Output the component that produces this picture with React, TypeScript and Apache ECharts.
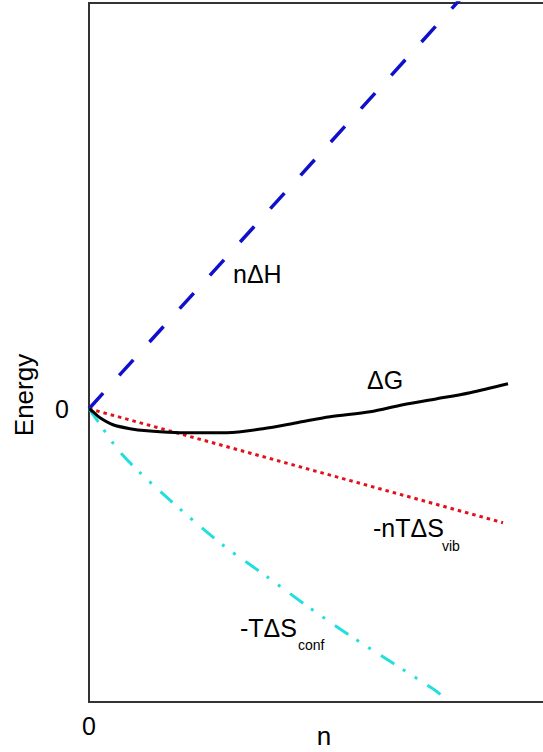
import React, { useEffect, useRef } from "react";
import * as echarts from "echarts";

// n (x) and energy (y) values
const enthalpyN = [0, 4.6];
const enthalpyE = [0, 5.19];

const vibN = [0, 4.14];
const vibE = [0, -1.166];

const confN = [0, 0.12, 0.29, 0.51, 0.94, 1.36, 1.78, 2.19, 2.61, 3.03, 3.45, 3.58];
const confE = [0, -0.174, -0.419, -0.654, -1.053, -1.411, -1.718, -2.025, -2.321, -2.597, -2.873, -2.975];

const gibbsN = [0, 0.04, 0.11, 0.24, 0.41, 0.58, 0.91, 1.38, 1.74, 2.08, 2.41, 2.81, 3.14, 3.48, 3.81, 4.19];
const gibbsE = [0, -0.031, -0.092, -0.164, -0.204, -0.225, -0.245, -0.245, -0.204, -0.143, -0.082, -0.031, 0.041, 0.102, 0.164, 0.256];

const xTickLabels = ["0"];
const yTickLabels = ["0"];

const FONT = "'Liberation Sans', Arial, Helvetica, sans-serif";

const pairs = (xs: number[], ys: number[]) => xs.map((x, i) => [x, ys[i]]);

function txt(text: string, x: number, y: number, size: number, extra: any = {}) {
  return {
    type: "text",
    x,
    y,
    ...extra,
    style: {
      text,
      fill: "#000",
      font: `${size}px ${FONT}`,
      fontSize: size,
      fontFamily: FONT,
      textAlign: extra.align || "left",
      align: extra.align || "left",
      textVerticalAlign: "middle",
      verticalAlign: "middle",
    },
  };
}

export default function App() {
  const ref = useRef<HTMLDivElement>(null);
  useEffect(() => {
    if (!ref.current) return;
    const chart = echarts.init(ref.current, null, { renderer: "svg" });
    chart.setOption({
      animation: false,
      backgroundColor: "#fff",
      grid: {
        left: 89,
        top: 3,
        width: 460,
        height: 699,
        containLabel: false,
        outerBoundsMode: "none",
        show: true,
        borderColor: "#333",
        borderWidth: 2,
        backgroundColor: "transparent",
      },
      xAxis: {
        type: "value",
        min: 0,
        max: 4.6,
        interval: 1,
        axisLine: { show: false },
        axisTick: { show: false },
        splitLine: { show: false },
        axisLabel: {
          margin: 11,
          fontSize: 25,
          fontFamily: FONT,
          color: "#000",
          showMaxLabel: false,
          formatter: (v: number) => (v === 0 ? xTickLabels[0] : ""),
        },
      },
      yAxis: {
        type: "value",
        min: -3,
        max: 4.15,
        interval: 1,
        axisLine: { show: false },
        axisTick: { show: false },
        splitLine: { show: false },
        axisLabel: {
          margin: 20,
          fontSize: 25,
          fontFamily: FONT,
          color: "#000",
          showMaxLabel: false,
          formatter: (v: number) => (v === 0 ? yTickLabels[0] : ""),
        },
      },
      graphic: [
        txt("Energy", 24, 395, 26, { rotation: Math.PI / 2, align: "center" }),
        txt("n", 324, 736, 26, { align: "center" }),
        txt("nΔH", 233, 274, 25),
        txt("ΔG", 367, 380, 25),
        txt("-nTΔS", 373, 528, 25),
        txt("vib", 442, 546, 14),
        txt("-TΔS", 240, 628, 25),
        txt("conf", 298, 645, 14),
      ],
      series: [
        {
          name: "nΔH",
          type: "line",
          data: pairs(enthalpyN, enthalpyE),
          symbol: "none",
          clip: true,
          lineStyle: { color: "#1010cc", width: 3.5, type: [21, 24], cap: "butt" },
        },
        {
          name: "-nTΔSvib",
          type: "line",
          data: pairs(vibN, vibE),
          symbol: "none",
          lineStyle: { color: "#e3101c", width: 3, type: [3.5, 4], cap: "butt" },
        },
        {
          name: "-TΔSconf",
          type: "line",
          data: pairs(confN, confE),
          symbol: "none",
          smooth: 0.3,
          clip: true,
          lineStyle: { color: "#22dede", width: 3, type: [16, 10, 3, 11, 3, 12], cap: "butt" },
        },
        {
          name: "ΔG",
          type: "line",
          data: pairs(gibbsN, gibbsE),
          symbol: "none",
          smooth: 0.3,
          lineStyle: { color: "#000", width: 3 },
        },
      ],
    });
    return () => chart.dispose();
  }, []);
  return (
    <div
      ref={ref}
      style={{ position: "fixed", left: 0, top: 0, width: 543, height: 752, background: "#fff" }}
    />
  );
}
